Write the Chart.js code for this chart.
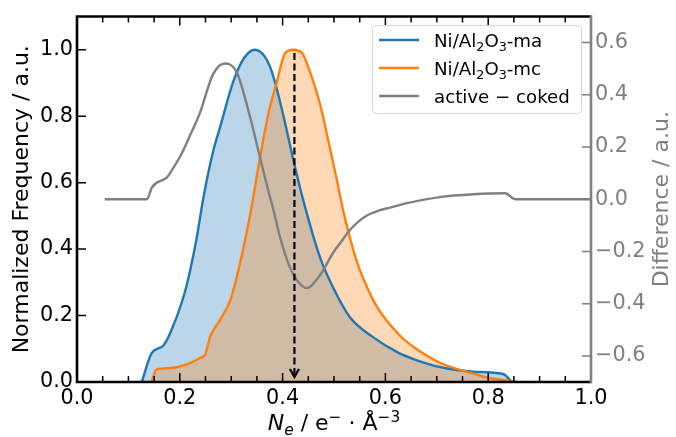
<!DOCTYPE html>
<html>
<head>
<meta charset="utf-8">
<script src="https://cdn.jsdelivr.net/npm/chart.js@4.4.1/dist/chart.umd.min.js"></script>
<style>
  html, body { margin: 0; padding: 0; background: #fff; }
  #wrap { width: 676px; height: 437px; }
</style>
</head>
<body>
<div id="wrap"><canvas id="chart" width="676" height="437"></canvas></div>
<script>
// Normalized electron density distributions of the two catalysts
const maX = [0.126, 0.145, 0.168, 0.181, 0.207, 0.22, 0.233, 0.246, 0.265, 0.278, 0.304, 0.325, 0.346, 0.365, 0.379, 0.401, 0.42, 0.44, 0.473, 0.498, 0.531, 0.576, 0.623, 0.66, 0.706, 0.771, 0.829, 0.846];
const maY = [0, 0.086, 0.11, 0.146, 0.255, 0.335, 0.435, 0.555, 0.695, 0.765, 0.904, 0.975, 1.0, 0.98, 0.934, 0.805, 0.674, 0.548, 0.374, 0.285, 0.195, 0.135, 0.09, 0.066, 0.045, 0.031, 0.024, 0];

const mcX = [0.145, 0.155, 0.181, 0.22, 0.243, 0.249, 0.259, 0.278, 0.298, 0.317, 0.337, 0.356, 0.372, 0.389, 0.405, 0.42, 0.438, 0.453, 0.473, 0.492, 0.506, 0.518, 0.53, 0.545, 0.56, 0.584, 0.628, 0.66, 0.706, 0.771, 0.803, 0.858];
const mcY = [0, 0.038, 0.042, 0.057, 0.075, 0.081, 0.136, 0.186, 0.245, 0.356, 0.505, 0.675, 0.805, 0.904, 0.99, 1.0, 0.99, 0.934, 0.835, 0.704, 0.605, 0.515, 0.44, 0.36, 0.3, 0.225, 0.14, 0.1, 0.058, 0.025, 0.012, 0];

// difference curve (right axis)
const diffX = [0.054, 0.136, 0.146, 0.175, 0.181, 0.204, 0.22, 0.239, 0.265, 0.288, 0.311, 0.337, 0.356, 0.372, 0.382, 0.395, 0.414, 0.428, 0.447, 0.473, 0.498, 0.515, 0.531, 0.548, 0.564, 0.585, 0.609, 0.642, 0.706, 0.771, 0.833, 0.852, 1.0];
const diffY = [0, 0, 0.046, 0.084, 0.1, 0.176, 0.245, 0.33, 0.48, 0.52, 0.485, 0.313, 0.16, 0.034, -0.04, -0.145, -0.26, -0.31, -0.34, -0.29, -0.206, -0.16, -0.118, -0.085, -0.062, -0.045, -0.032, -0.015, 0.008, 0.019, 0.023, 0, 0];

const xTicks = [0, 0.2, 0.4, 0.6, 0.8, 1.0];
const xMinorTicks = [0.05, 0.1, 0.15, 0.25, 0.3, 0.35, 0.45, 0.5, 0.55, 0.65, 0.7, 0.75, 0.85, 0.9, 0.95];
const yTicks = [0, 0.2, 0.4, 0.6, 0.8, 1.0];
const diffTicks = [-0.6, -0.4, -0.2, 0, 0.2, 0.4, 0.6];

// dashed arrow at the mc peak
const arrowX = 0.423;
const arrowFrom = 0.99;
const arrowTo = 0.015;

const GREY = '#808080';
const tickFont = { family: 'DejaVu Sans', size: 20.8 };

function pts(xs, ys) {
    return xs.map((x, i) => ({ x: x, y: ys[i] }));
}

function fmt(v) {
    const s = Math.abs(v).toFixed(1);
    return v < 0 ? '\u2212' + s : s;
}

// draw text made of pieces (italic, sub- and superscripts)
function richWidth(ctx, parts, size) {
    let w = 0;
    parts.forEach(p => {
        const fs = (p.sub || p.sup) ? size * 0.7 : size;
        ctx.font = (p.it ? 'italic ' : '') + fs + 'px "DejaVu Sans"';
        w += ctx.measureText(p.t).width;
    });
    return w;
}

function drawRich(ctx, parts, x, y, size, align) {
    let cx = align === 'center' ? x - richWidth(ctx, parts, size) / 2 : x;
    ctx.textAlign = 'left';
    ctx.textBaseline = 'alphabetic';
    parts.forEach(p => {
        const fs = (p.sub || p.sup) ? size * 0.7 : size;
        ctx.font = (p.it ? 'italic ' : '') + fs + 'px "DejaVu Sans"';
        let dy = 0;
        if (p.sub) dy = size * 0.22;
        if (p.sup) dy = -size * 0.38;
        ctx.fillText(p.t, cx, y + dy);
        cx += ctx.measureText(p.t).width;
    });
}

const legendItems = [
    { color: '#1f77b4', parts: [{ t: 'Ni/Al' }, { t: '2', sub: true }, { t: 'O' }, { t: '3', sub: true }, { t: '-ma' }] },
    { color: '#ff7f0e', parts: [{ t: 'Ni/Al' }, { t: '2', sub: true }, { t: 'O' }, { t: '3', sub: true }, { t: '-mc' }] },
    { color: GREY, parts: [{ t: 'active \u2212 coked' }] }
];

const decor = {
    id: 'decor',
    afterDatasetsDraw(chart) {
        const ctx = chart.ctx;
        const px = chart.scales.x.getPixelForValue(arrowX);
        const y0 = chart.scales.y.getPixelForValue(arrowFrom);
        const y1 = chart.scales.y.getPixelForValue(arrowTo);
        ctx.save();
        ctx.strokeStyle = '#000';
        ctx.lineWidth = 2.2;
        ctx.setLineDash([7, 3.5]);
        ctx.beginPath();
        ctx.moveTo(px, y0);
        ctx.lineTo(px, y1 - 1);
        ctx.stroke();
        ctx.setLineDash([]);
        ctx.beginPath();
        ctx.moveTo(px - 4.5, y1 - 8);
        ctx.lineTo(px, y1);
        ctx.lineTo(px + 4.5, y1 - 8);
        ctx.stroke();
        ctx.restore();
    },
    afterDraw(chart) {
        const ctx = chart.ctx;
        const a = chart.chartArea;
        const xs = chart.scales.x, ys = chart.scales.y, y2 = chart.scales.y2;
        ctx.save();

        // inward ticks
        ctx.lineWidth = 1.5;
        ctx.strokeStyle = '#000';
        ctx.beginPath();
        xTicks.forEach(v => {
            const p = xs.getPixelForValue(v);
            ctx.moveTo(p, a.bottom); ctx.lineTo(p, a.bottom - 9);
            ctx.moveTo(p, a.top); ctx.lineTo(p, a.top + 9);
        });
        xMinorTicks.forEach(v => {
            const p = xs.getPixelForValue(v);
            ctx.moveTo(p, a.bottom); ctx.lineTo(p, a.bottom - 6);
            ctx.moveTo(p, a.top); ctx.lineTo(p, a.top + 6);
        });
        yTicks.forEach(v => {
            const p = ys.getPixelForValue(v);
            ctx.moveTo(a.left, p); ctx.lineTo(a.left + 9, p);
        });
        ctx.stroke();
        ctx.strokeStyle = GREY;
        ctx.beginPath();
        diffTicks.forEach(v => {
            const p = y2.getPixelForValue(v);
            ctx.moveTo(a.right, p); ctx.lineTo(a.right - 9, p);
        });
        ctx.stroke();

        // spines
        ctx.lineWidth = 2.6;
        ctx.strokeStyle = '#000';
        ctx.beginPath();
        ctx.moveTo(a.right, a.top); ctx.lineTo(a.left, a.top);
        ctx.lineTo(a.left, a.bottom); ctx.lineTo(a.right, a.bottom);
        ctx.stroke();
        ctx.strokeStyle = GREY;
        ctx.beginPath();
        ctx.moveTo(a.right, a.top - 1.3); ctx.lineTo(a.right, a.bottom + 1.3);
        ctx.stroke();

        // axis titles
        const midY = (a.top + a.bottom) / 2;
        ctx.font = '22px "DejaVu Sans"';
        ctx.textAlign = 'center';
        ctx.textBaseline = 'middle';
        ctx.fillStyle = '#000';
        ctx.save();
        ctx.translate(22, midY);
        ctx.rotate(-Math.PI / 2);
        ctx.fillText('Normalized Frequency / a.u.', 0, 0);
        ctx.restore();
        ctx.fillStyle = GREY;
        ctx.save();
        ctx.translate(662, midY);
        ctx.rotate(-Math.PI / 2);
        ctx.fillText('Difference / a.u.', 0, 0);
        ctx.restore();

        ctx.fillStyle = '#000';
        drawRich(ctx, [
            { t: 'N', it: true }, { t: 'e', it: true, sub: true },
            { t: ' / e' }, { t: '\u2212', sup: true },
            { t: ' \u00b7 \u00c5' }, { t: '\u22123', sup: true }
        ], (a.left + a.right) / 2, 430, 22, 'center');

        // legend
        const lx = 372, ly = 25, lw = 209, lh = 88;
        ctx.fillStyle = 'rgba(255,255,255,0.8)';
        ctx.strokeStyle = '#d5d5d5';
        ctx.lineWidth = 1;
        ctx.beginPath();
        ctx.roundRect(lx + 0.5, ly + 0.5, lw, lh, 4);
        ctx.fill();
        ctx.stroke();
        legendItems.forEach((it, i) => {
            const ry = 40 + i * 28;
            ctx.strokeStyle = it.color;
            ctx.lineWidth = 2.4;
            ctx.beginPath();
            ctx.moveTo(379, ry); ctx.lineTo(419, ry);
            ctx.stroke();
            ctx.fillStyle = '#000';
            drawRich(ctx, it.parts, 434, ry + 7, 18.2, 'left');
        });
        ctx.restore();
    }
};

Chart.defaults.font.family = 'DejaVu Sans';

new Chart(document.getElementById('chart'), {
    type: 'line',
    data: {
        datasets: [
            {
                label: 'active - coked', data: pts(diffX, diffY), yAxisID: 'y2', order: 0,
                borderColor: GREY, borderWidth: 2.4, pointRadius: 0, fill: false,
                cubicInterpolationMode: 'monotone'
            },
            {
                label: 'Ni/Al2O3-mc', data: pts(mcX, mcY), yAxisID: 'y', order: 1,
                borderColor: '#ff7f0e', backgroundColor: 'rgba(255,127,14,0.3)', fill: 'origin',
                borderWidth: 2.4, pointRadius: 0, cubicInterpolationMode: 'monotone'
            },
            {
                label: 'Ni/Al2O3-ma', data: pts(maX, maY), yAxisID: 'y', order: 2,
                borderColor: '#1f77b4', backgroundColor: 'rgba(31,119,180,0.3)', fill: 'origin',
                borderWidth: 2.4, pointRadius: 0, cubicInterpolationMode: 'monotone'
            }
        ]
    },
    options: {
        responsive: false,
        animation: false,
        devicePixelRatio: 1,
        layout: { padding: { top: 15, left: 0, right: 0, bottom: 0 } },
        plugins: {
            legend: { display: false },
            tooltip: { enabled: false },
            filler: { drawTime: 'beforeDatasetsDraw' }
        },
        scales: {
            x: {
                type: 'linear', position: 'bottom', min: 0, max: 1,
                afterBuildTicks: s => { s.ticks = xTicks.map(v => ({ value: v })); },
                afterFit: s => { s.height = 55; },
                grid: { display: false, drawTicks: false },
                border: { display: false },
                ticks: { font: tickFont, color: '#000', padding: 4, maxRotation: 0, autoSkip: false, callback: v => fmt(v) }
            },
            y: {
                type: 'linear', position: 'left', min: 0, max: 1.1,
                afterBuildTicks: s => { s.ticks = yTicks.map(v => ({ value: v })); },
                afterFit: s => { s.width = 77; },
                grid: { display: false, drawTicks: false },
                border: { display: false },
                ticks: { font: tickFont, color: '#000', padding: 4, callback: v => fmt(v) }
            },
            y2: {
                type: 'linear', position: 'right', min: -0.7, max: 0.7,
                afterBuildTicks: s => { s.ticks = diffTicks.map(v => ({ value: v })); },
                afterFit: s => { s.width = 85; },
                grid: { display: false, drawTicks: false },
                border: { display: false },
                ticks: { font: tickFont, color: GREY, padding: 4, callback: v => fmt(v) }
            }
        }
    },
    plugins: [decor]
});
</script>
</body>
</html>
